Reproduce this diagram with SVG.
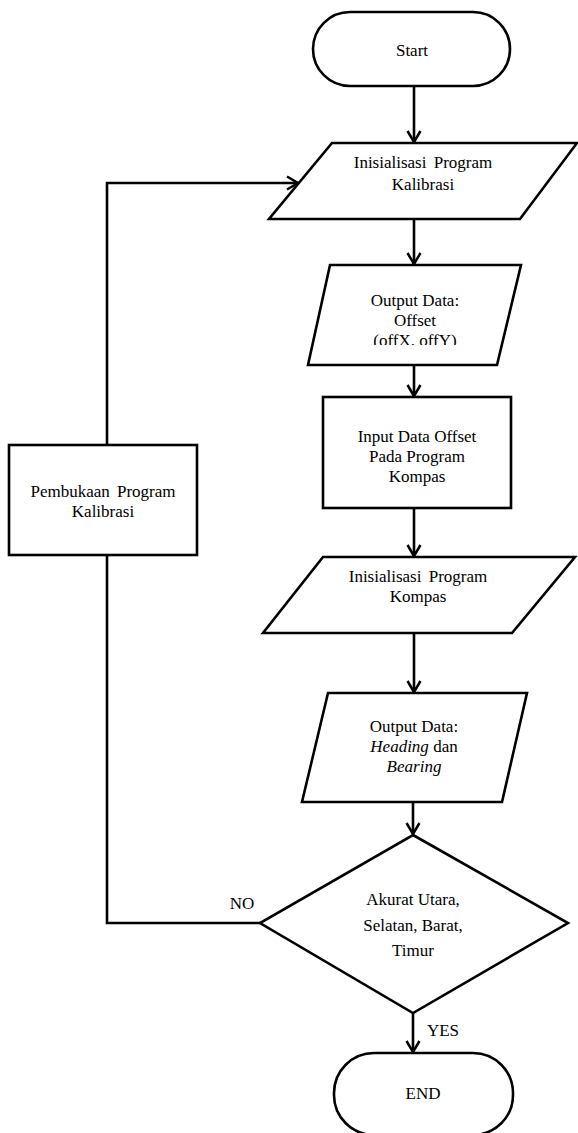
<svg xmlns="http://www.w3.org/2000/svg" width="578" height="1133" viewBox="0 0 578 1133" font-family="'Liberation Serif', 'DejaVu Serif', serif">
<defs>
<marker id="arr" markerUnits="userSpaceOnUse" markerWidth="20" markerHeight="20" viewBox="-14 -10 20 20" refX="0" refY="0" orient="auto" overflow="visible">
<path d="M-11,-6.5 L0,0 L-11,6.5" fill="none" stroke="#000" stroke-width="2.5"/>
</marker>
<clipPath id="clipOff"><rect x="300" y="260" width="230" height="85"/></clipPath>
</defs>
<style>
.s{fill:#fff;stroke:#000;stroke-width:2.6;}
.c{fill:none;stroke:#000;stroke-width:2.6;}
.t{font-family:'Liberation Serif','DejaVu Serif',serif;font-size:17px;fill:#000;text-anchor:middle;}
</style>
<rect width="578" height="1133" fill="#fff"/>
<g id="connectors">
<line class="c" x1="414" y1="86" x2="414" y2="142" marker-end="url(#arr)"/>
<line class="c" x1="414" y1="219" x2="414" y2="264" marker-end="url(#arr)"/>
<line class="c" x1="414" y1="365" x2="414" y2="396" marker-end="url(#arr)"/>
<line class="c" x1="414" y1="508" x2="414" y2="556" marker-end="url(#arr)"/>
<line class="c" x1="414" y1="633" x2="414" y2="692" marker-end="url(#arr)"/>
<line class="c" x1="413" y1="802" x2="413" y2="834" marker-end="url(#arr)"/>
<line class="c" x1="413" y1="1013" x2="413" y2="1052" marker-end="url(#arr)"/>
<polyline class="c" points="260,923 107,923 107,183 298,183" marker-end="url(#arr)"/>
<text class="t" x="242" y="909">NO</text>
<text class="t" x="443" y="1036">YES</text>
</g>
<g id="start">
<rect class="s" x="313" y="12" width="197" height="74" rx="37" ry="37"/>
<text class="t" x="412" y="56">Start</text>
</g>
<g id="init-kalibrasi">
<polygon class="s" points="332,143 577,143 520,219 269,219"/>
<text class="t" x="423" y="168" word-spacing="3">Inisialisasi Program</text>
<text class="t" x="423" y="190">Kalibrasi</text>
</g>
<g id="output-offset">
<polygon class="s" points="330,265 521,265 497,365 308,365"/>
<text class="t" x="415" y="306">Output Data:</text>
<text class="t" x="415" y="326">Offset</text>
<text class="t" x="415" y="346" clip-path="url(#clipOff)">(offX. offY)</text>
</g>
<g id="input-offset">
<rect class="s" x="323" y="397" width="188" height="111"/>
<text class="t" x="417" y="442">Input Data Offset</text>
<text class="t" x="417" y="462">Pada Program</text>
<text class="t" x="417" y="482">Kompas</text>
</g>
<g id="init-kompas">
<polygon class="s" points="323,557 575,557 512,633 263,633"/>
<text class="t" x="418" y="582" word-spacing="3">Inisialisasi Program</text>
<text class="t" x="418" y="602">Kompas</text>
</g>
<g id="output-heading">
<polygon class="s" points="328,693 527,693 502,802 302,802"/>
<text class="t" x="414" y="732">Output Data:</text>
<text class="t" x="414" y="752"><tspan font-style="italic">Heading</tspan> dan</text>
<text class="t" x="414" y="772" font-style="italic">Bearing</text>
</g>
<g id="pembukaan">
<rect class="s" x="9" y="445" width="188" height="110"/>
<text class="t" x="103" y="497" word-spacing="3">Pembukaan Program</text>
<text class="t" x="103" y="517">Kalibrasi</text>
</g>
<g id="decision">
<polygon class="s" points="413,835 568,923 413,1013 260,923"/>
<text class="t" x="413" y="905">Akurat Utara,</text>
<text class="t" x="413" y="931">Selatan, Barat,</text>
<text class="t" x="413" y="956">Timur</text>
</g>
<g id="end">
<rect class="s" x="334" y="1053" width="179" height="82" rx="40" ry="40"/>
<text class="t" x="423" y="1099">END</text>
</g>
</svg>
